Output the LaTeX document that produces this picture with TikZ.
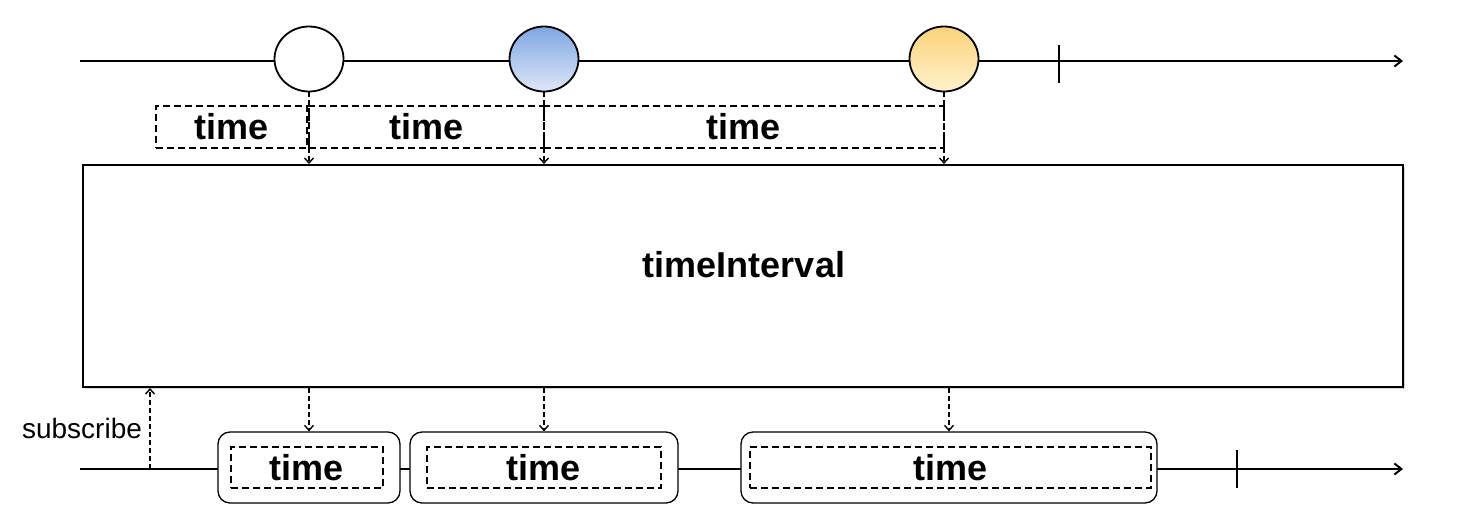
\documentclass[tikz,border=0pt]{standalone}
\usepackage{fontspec}
\setmainfont{Liberation Sans}
\usepackage{tikz}
\usetikzlibrary{arrows.meta,positioning,shadows,shapes.geometric}

\definecolor{blueTop}{HTML}{7FA6E2}
\definecolor{blueBot}{HTML}{DDE7F8}
\definecolor{orangeTop}{HTML}{FCD37A}
\definecolor{orangeBot}{HTML}{FFF1CC}

\tikzset{
  axis/.style={line width=2pt, -{Straight Barb[length=7pt,width=11pt]}},
  event/.style={ellipse, draw, line width=1.8pt, minimum width=69pt, minimum height=65pt, inner sep=0pt},
  span/.style={draw, line width=1.4pt, dash pattern=on 7pt off 4pt, minimum height=42pt,
    inner sep=0pt, font=\bfseries\fontsize{36}{40}\selectfont},
  emit/.style={line width=1.4pt, dash pattern=on 5pt off 3pt, -{Straight Barb[length=5pt,width=9pt]}},
  item/.style={draw, rounded corners=12pt, line width=1.3pt, minimum height=71pt, fill=white},
}

\begin{document}
\begin{tikzpicture}[x=1pt,y=-1pt]
  \useasboundingbox (0,0) rectangle (1475,516);

  % source stream
  \coordinate (srcstart) at (80,61);
  \coordinate (srcend) at (1403,61);
  \coordinate (srcdone) at (1059,64);
  \draw[axis] (srcstart) -- (srcend);
  \draw[line width=2pt] ([yshift=19pt]srcdone) -- ([yshift=-19pt]srcdone);

  \node[event, fill=white] (e1) at (309,59) {};
  \node[event, top color=blueTop, bottom color=blueBot] (e2) at (544,59) {};
  \node[event, top color=orangeTop, bottom color=orangeBot] (e3) at (944,59) {};

  % intervals
  \node[span, minimum width=151pt] (t1) at (231.5,127) {time};
  \node[span, minimum width=235pt] (t2) at (426.5,127) {time};
  \node[span, minimum width=400pt] (t3) at (744,127) {time};

  % operator
  \node[draw, line width=2pt, fill=white, minimum width=1320pt, minimum height=222pt,
    drop shadow={shadow xshift=2pt, shadow yshift=-2pt, opacity=0.35}] (op) at (743,276) {};
  \node[font=\bfseries\fontsize{36}{40}\selectfont] (oplabel) at (744,265) {timeInterval};

  \foreach \e in {e1,e2,e3}
    \draw[emit] (\e.south) -- (\e.south |- op.north);

  % result stream
  \coordinate (outstart) at (80,469);
  \coordinate (outend) at (1403,469);
  \coordinate (outdone) at (1237,469);
  \coordinate (sub) at (150,469);
  \draw[axis] (outstart) -- (outend);
  \draw[line width=2pt] ([yshift=19pt]outdone) -- ([yshift=-19pt]outdone);
  \draw[emit] (sub) -- (sub |- op.south);
  \node[font=\fontsize{28}{32}\selectfont] (sublabel) at (82,428) {subscribe};

  \node[item, minimum width=182pt] (r1) at (309,467.5) {};
  \node[item, minimum width=268pt] (r2) at (544,467.5) {};
  \node[item, minimum width=416pt] (r3) at (949,467.5) {};
  \node[span, minimum width=152pt, minimum height=41pt] (r1t) at (307,467.5) {time};
  \node[span, minimum width=234pt, minimum height=41pt] (r2t) at (544,467.5) {time};
  \node[span, minimum width=401pt, minimum height=41pt] (r3t) at (950.5,467.5) {time};

  \foreach \r in {r1,r2,r3}
    \draw[emit] (\r.north |- op.south) -- (\r.north);
\end{tikzpicture}
\end{document}
